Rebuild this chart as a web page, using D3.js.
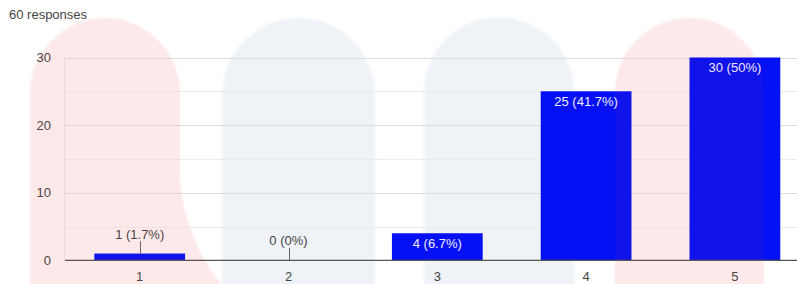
<!DOCTYPE html>
<html><head><meta charset="utf-8">
<script src="https://cdn.jsdelivr.net/npm/d3@7"></script>
<style>html,body{margin:0;padding:0;background:#fff;}svg{display:block;font-family:"Liberation Sans",Arial,sans-serif;}</style>
</head><body>
<svg id="chart" width="797" height="284"></svg>
<script>
const title = "60 responses";
const categories = ["1", "2", "3", "4", "5"];
const counts = [1, 0, 4, 25, 30];
const percentLabels = ["1.7%", "0%", "6.7%", "41.7%", "50%"];
const yTicks = [0, 10, 20, 30];
const yMinorTicks = [5, 15, 25];

const svg = d3.select("#chart");
const x = d3.scaleBand().domain(categories).range([65.3, 809.3]).paddingInner(0.39).paddingOuter(0.195);
const y = d3.scaleLinear().domain([0, 30]).range([260.3, 57.5]);

svg.append("defs").append("filter").attr("id", "soft")
  .append("feGaussianBlur").attr("stdDeviation", 1.5);

// background watermark shapes
const shapes = [
  {d: "M30,290 L30,93 A75,75 0 0 1 180,93 L180,178 Q184,240 226,290 Z", fill: "#fdf2f2", tint: "#ff5050"},
  {d: "M222,290 L222,94.5 A76.5,76.5 0 0 1 375,94.5 L375,290 Z", fill: "#eff3f7", tint: null},
  {d: "M424,290 L424,92 A74,74 0 0 1 574,92 L574,290 Z", fill: "#eff3f7", tint: null},
  {d: "M615,290 L615,92.5 A74.5,74.5 0 0 1 764,92.5 L764,290 Z", fill: "#fdf2f2", tint: "#ff5050"}
];
const bg = svg.append("g").attr("filter", "url(#soft)");
shapes.forEach(s => bg.append("path").attr("d", s.d).attr("fill", s.fill));

svg.append("text").attr("x", 9).attr("y", 19).attr("font-size", 13).attr("fill", "#444").text(title);

// gridlines
svg.append("g").selectAll("line").data(yMinorTicks).join("line")
  .attr("x1", 65).attr("x2", 797).attr("y1", d => Math.round(y(d)) + 0.5).attr("y2", d => Math.round(y(d)) + 0.5)
  .attr("stroke", "#ebebeb").attr("stroke-width", 1);
svg.append("g").selectAll("line").data(yTicks.filter(d => d > 0)).join("line")
  .attr("x1", 65).attr("x2", 797).attr("y1", d => Math.round(y(d)) + 0.5).attr("y2", d => Math.round(y(d)) + 0.5)
  .attr("stroke", "#dcdcdc").attr("stroke-width", 1);
// faint left border
svg.append("line").attr("x1", 64.5).attr("x2", 64.5).attr("y1", y(30)).attr("y2", y(0)).attr("stroke", "#e4e4e4");

// y axis labels
const yAxis = d3.axisLeft(y).tickValues(yTicks).tickSize(0).tickPadding(0);
const ya = svg.append("g").attr("transform", "translate(51,0)").call(yAxis);
ya.select(".domain").remove();
ya.selectAll("text").attr("font-size", 13).attr("fill", "#444").attr("font-family", "Liberation Sans, Arial, sans-serif");

// bars
const data = categories.map((c, i) => ({c, v: counts[i], p: percentLabels[i]}));
svg.append("g").selectAll("rect").data(data).join("rect")
  .attr("x", d => x(d.c)).attr("width", x.bandwidth())
  .attr("y", d => y(d.v)).attr("height", d => y(0) - y(d.v))
  .attr("fill", "#0510f4");

// baseline
svg.append("line").attr("x1", 65).attr("x2", 797).attr("y1", y(0)).attr("y2", y(0)).attr("stroke", "#555").attr("stroke-width", 1.3);

// x axis labels
const xAxis = d3.axisBottom(x).tickSize(0).tickPadding(0);
const xa = svg.append("g").attr("transform", "translate(0,272)").call(xAxis);
xa.select(".domain").remove();
xa.selectAll("text").attr("font-size", 13).attr("fill", "#444").attr("font-family", "Liberation Sans, Arial, sans-serif");

// value labels
const lbl = svg.append("g");
data.forEach(d => {
  const cx = x(d.c) + x.bandwidth() / 2;
  const txt = `${d.v} (${d.p})`;
  if (y(0) - y(d.v) > 20) {
    lbl.append("text").attr("x", cx).attr("y", y(d.v) + 14.5).attr("text-anchor", "middle")
      .attr("font-size", 13).attr("fill", "#eef").text(txt);
  } else {
    lbl.append("line").attr("x1", Math.round(cx) + 0.5).attr("x2", Math.round(cx) + 0.5)
      .attr("y1", y(d.v) - 12.5).attr("y2", y(d.v)).attr("stroke", "#666").attr("stroke-width", 1);
    lbl.append("text").attr("x", cx).attr("y", y(d.v) - 15).attr("text-anchor", "middle")
      .attr("font-size", 13).attr("fill", "#444").text(txt);
  }
});

// faint watermark tint over bars
const ov = svg.append("g").attr("opacity", 0.05);
shapes.filter(s => s.tint).forEach(s => ov.append("path").attr("d", s.d).attr("fill", s.tint));
</script>
</body></html>
